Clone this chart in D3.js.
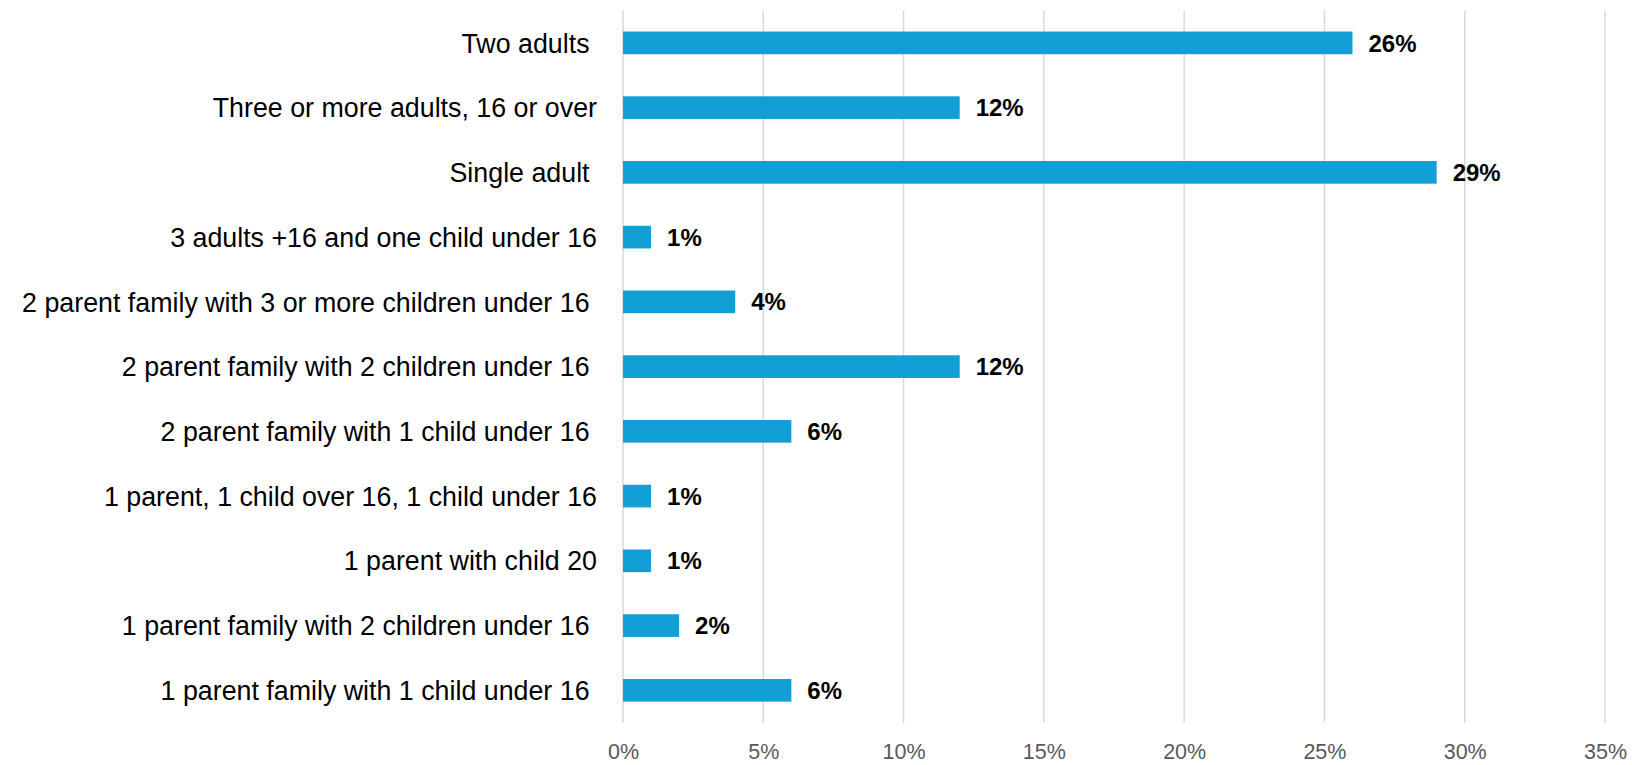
<!DOCTYPE html>
<html><head><meta charset="utf-8">
<script src="https://cdn.jsdelivr.net/npm/d3@7"></script>
<style>body{margin:0;background:#fff}svg{display:block}</style>
</head><body>
<svg id="c" width="1632" height="765"></svg>
<script>
const categories = [
  "Two adults ",
  "Three or more adults, 16 or over",
  "Single adult ",
  "3 adults +16 and one child under 16",
  "2 parent family with 3 or more children under 16 ",
  "2 parent family with 2 children under 16 ",
  "2 parent family with 1 child under 16 ",
  "1 parent, 1 child over 16, 1 child under 16",
  "1 parent with child 20",
  "1 parent family with 2 children under 16 ",
  "1 parent family with 1 child under 16 "
];
const values = [26, 12, 29, 1, 4, 12, 6, 1, 1, 2, 6];
const tickValues = [0, 5, 10, 15, 20, 25, 30, 35];

(function () {
const svg = d3.select("#c");
const mLeft = 623, mRight = 1605, mTop = 10.5, mBottom = 722.7;

const x = d3.scaleLinear().domain([0, 35]).range([mLeft, mRight]);
const y = d3.scaleBand().domain(categories).range([mTop, mBottom]).paddingInner(0.65).paddingOuter(0.325);

// gridlines
svg.append("g").selectAll("line").data(tickValues).join("line")
  .attr("x1", d => x(d)).attr("x2", d => x(d))
  .attr("y1", mTop).attr("y2", mBottom)
  .attr("stroke", "#D9D9D9").attr("stroke-width", 1.5);

// bars
svg.append("g").selectAll("rect").data(values).join("rect")
  .attr("x", x(0))
  .attr("y", (d, i) => y(categories[i]))
  .attr("width", d => x(d) - x(0))
  .attr("height", y.bandwidth())
  .attr("fill", "#129FD6");

// value labels
svg.append("g").selectAll("text").data(values).join("text")
  .attr("x", d => x(d) + 16)
  .attr("y", (d, i) => y(categories[i]) + y.bandwidth() / 2)
  .attr("dy", "0.36em")
  .attr("font-family", "Liberation Sans, Arial, sans-serif")
  .attr("font-weight", "bold")
  .attr("font-size", 24)
  .attr("fill", "#000")
  .text(d => d + "%");

// category labels
svg.append("g").selectAll("text").data(categories).join("text")
  .attr("x", 597)
  .attr("y", d => y(d) + y.bandwidth() / 2)
  .attr("dy", "0.36em")
  .attr("text-anchor", "end")
  .attr("font-family", "Liberation Sans, Arial, sans-serif")
  .attr("font-size", 26.8)
  .attr("fill", "#000")
  .style("white-space", "pre")
  .text(d => d);

// x axis tick labels
const xAxis = d3.axisBottom(x).tickValues(tickValues).tickSize(0).tickFormat(d => d + "%");
const ax = svg.append("g").attr("transform", `translate(0,${mBottom})`).call(xAxis);
ax.select(".domain").remove();
ax.selectAll("text")
  .attr("y", 29)
  .attr("dy", "0.36em")
  .attr("font-family", "Liberation Sans, Arial, sans-serif")
  .attr("font-size", 21.5)
  .attr("fill", "#595959");
})();
</script>
</body></html>
